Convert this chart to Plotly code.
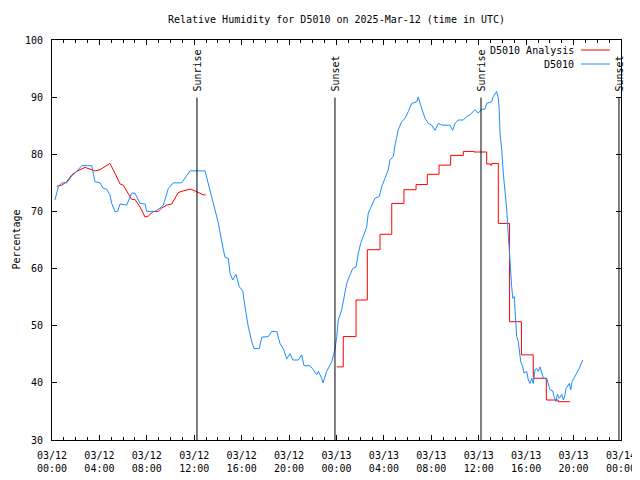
import pandas as pd
import plotly.graph_objects as go

BASE = pd.Timestamp("2025-03-12 00:00")

# Observed D5010 (hours after 03/12 00:00 UTC, RH %)
obs_hours = [0.25, 0.53, 0.82, 1.24, 1.66, 2.08, 2.51, 3.35, 3.63, 4.05, 4.33, 4.61, 4.89, 5.04, 5.31, 5.54,
             5.74, 6.30, 6.72, 7.00, 7.42, 7.85, 7.99, 8.69, 9.11, 9.39, 9.81, 10.23, 10.94, 11.36, 11.64,
             12.91, 13.19, 13.47, 13.75, 14.03, 14.32, 14.59, 14.87, 15.02, 15.24, 15.52, 15.80, 16.09,
             16.28, 16.56, 16.85, 17.04, 17.49, 17.69, 18.25, 18.53, 18.96, 19.23, 19.51, 19.80, 20.08,
             20.31, 20.78, 21.06, 21.26, 21.76, 22.04, 22.33, 22.47, 22.75, 22.86, 23.17, 23.60, 23.87,
             24.02, 24.15, 24.44, 24.63, 24.86, 25.14, 25.37, 25.65, 25.84, 26.04, 26.26, 26.55, 26.68,
             26.97, 27.25, 27.61, 27.81, 28.09, 28.37, 28.51, 28.79, 28.94, 29.21, 29.50, 29.78, 30.06,
             30.34, 30.77, 30.90, 31.19, 31.47, 31.74, 32.03, 32.31, 32.59, 32.87, 33.58, 33.80, 34.00,
             34.27, 34.70, 34.98, 35.26, 35.68, 35.96, 36.25, 36.53, 36.67, 37.09, 37.22, 37.51, 37.65,
             37.73, 37.79, 37.94, 38.07, 38.22, 38.36, 38.50, 38.58, 38.70, 38.78, 38.87, 39.00, 39.06,
             39.14, 39.20, 39.34, 39.42, 39.54, 39.71, 39.82, 40.05, 40.18, 40.32, 40.47, 40.60, 40.75,
             40.89, 41.02, 41.17, 41.31, 41.45, 41.73, 41.87, 42.01, 42.24, 42.35, 42.52, 42.63, 42.80,
             43.00, 43.14, 43.28, 43.36, 43.47, 43.64, 43.76, 43.87, 44.26, 44.54, 44.77]
obs_rh = [72.0, 74.3, 75.0, 75.0, 76.2, 77.0, 78.0, 78.0, 75.2, 75.0, 74.0, 73.9, 72.9, 71.4, 70.0, 70.0,
          71.3, 71.1, 73.2, 73.2, 71.4, 71.3, 70.0, 70.0, 70.6, 71.1, 74.0, 75.0, 75.0, 76.3, 77.1,
          77.1, 74.9, 72.6, 70.3, 68.0, 64.7, 62.0, 61.8, 59.2, 58.0, 59.0, 56.8, 56.1,
          53.3, 49.8, 47.2, 46.0, 46.0, 48.0, 48.1, 49.0, 49.0, 46.9, 46.0, 44.2, 45.1,
          44.0, 44.0, 44.9, 43.0, 43.0, 42.3, 41.4, 42.0, 40.8, 40.0, 42.0, 43.7, 45.8,
          48.1, 51.0, 52.8, 55.1, 57.4, 58.9, 60.0, 60.3, 62.7, 64.4, 65.6, 67.3, 69.7,
          71.1, 72.3, 72.6, 74.3, 75.8, 77.3, 79.0, 79.6, 81.6, 84.3, 85.7, 86.3, 87.5,
          88.9, 89.2, 90.0, 88.0, 86.3, 85.4, 85.1, 84.2, 85.4, 85.1, 85.1, 84.2, 85.4,
          86.0, 86.0, 86.6, 86.9, 87.8, 87.2, 87.9, 87.9, 88.9, 89.2, 90.1, 91.0, 89.8,
          87.8, 83.7, 80.8, 76.7, 73.8, 70.3, 65.6, 62.7, 59.5, 56.8, 54.8, 55.1, 52.8,
          50.4, 48.1, 47.2, 45.8, 43.7, 42.8, 41.7, 42.0, 40.5, 39.9, 40.8, 39.9, 42.3,
          42.5, 42.0, 42.8, 41.7, 40.8, 40.8, 39.9, 38.8, 38.6, 37.6, 36.7, 38.0, 37.3,
          38.0, 37.0, 37.9, 39.0, 39.3, 39.9, 38.8, 40.2, 41.7, 42.8, 44.0]

# Analysis, first day (continuous)
ana1_hours = [0.40, 0.82, 1.24, 1.66, 2.08, 2.78, 3.21, 3.63, 4.05, 4.47, 4.89, 5.31, 5.74, 6.01, 6.44,
              6.72, 7.00, 7.42, 7.85, 8.12, 8.55, 8.97, 9.25, 9.68, 10.10, 10.38, 10.65, 11.08, 11.64,
              12.06, 12.49, 12.76, 12.97]
ana1_rh = [74.4, 74.6, 75.2, 76.4, 77.0, 77.7, 77.4, 77.1, 77.3, 77.8, 78.4, 76.7, 74.8, 74.6, 73.2,
           72.1, 72.1, 70.8, 69.0, 69.2, 70.0, 70.0, 70.6, 71.1, 71.3, 72.3, 73.3, 73.6, 73.9,
           73.6, 73.2, 72.9, 72.9]

# Analysis, second day (hourly steps)
ana2_hours = [24.02, 24.57, 25.65, 26.60, 27.67, 28.66, 29.69, 30.71, 31.66, 32.65, 33.63, 34.70, 35.60,
              36.67, 37.00, 37.10, 37.65, 38.60, 39.60, 40.60, 41.70, 42.70, 43.70]
ana2_rh = [42.8, 48.1, 54.5, 63.3, 66.0, 71.4, 73.8, 74.7, 76.5, 78.1, 79.8, 80.5, 80.4,
           78.3, 78.1, 78.4, 67.9, 50.7, 44.9, 40.8, 37.0, 36.7, 36.7]

# Sun events (hours after 03/12 00:00 UTC)
event_hours = [12.23, 23.87, 36.19, 47.83]
event_names = ["Sunrise", "Sunset", "Sunrise", "Sunset"]

tick_hours = list(range(0, 49, 4))
tick_text = ["03/12<br>00:00", "03/12<br>04:00", "03/12<br>08:00", "03/12<br>12:00", "03/12<br>16:00",
             "03/12<br>20:00", "03/13<br>00:00", "03/13<br>04:00", "03/13<br>08:00", "03/13<br>12:00",
             "03/13<br>16:00", "03/13<br>20:00", "03/14<br>00:00"]

y_ticks = [30, 40, 50, 60, 70, 80, 90, 100]

series_names = ["D5010 Analysis", "D5010"]
series_colors = ["#ff0000", "#1a8cff"]


def to_time(hours):
    return [BASE + pd.Timedelta(hours=h) for h in hours]


FONT = "DejaVu Sans Mono"
# page has an 8px body margin; figure is sized so the plot lands where the reference has it
W, H = 632, 472

fig = go.Figure()
fig.add_trace(go.Scatter(x=to_time(ana1_hours), y=ana1_rh, mode="lines", name=series_names[0],
                         line=dict(color=series_colors[0], width=1), showlegend=False))
fig.add_trace(go.Scatter(x=to_time(ana2_hours), y=ana2_rh, mode="lines", name=series_names[0],
                         line=dict(color=series_colors[0], width=1, shape="hv"), showlegend=False))
fig.add_trace(go.Scatter(x=to_time(obs_hours), y=obs_rh, mode="lines", name=series_names[1],
                         line=dict(color=series_colors[1], width=1), showlegend=False))

for h, name in zip(event_hours, event_names):
    t = BASE + pd.Timedelta(hours=h)
    fig.add_shape(type="line", xref="x", yref="paper", x0=t, x1=t, y0=0, y1=0.856,
                  line=dict(color="black", width=1))
    fig.add_annotation(x=t, xref="x", y=0.866, yref="paper", text=name, textangle=-90,
                       showarrow=False, xanchor="center", yanchor="bottom", xshift=1,
                       font=dict(family=FONT, size=10, color="black"))

# Legend (gnuplot style: text right-aligned, sample on the right)
legend_y = [0.975, 0.94]
for name, color, ly in zip(series_names, series_colors, legend_y):
    fig.add_annotation(x=0.921, xref="paper", y=ly, yref="paper", text=name, showarrow=False,
                       xanchor="right", yanchor="middle", font=dict(family=FONT, size=10, color="black"))
    fig.add_shape(type="line", xref="paper", yref="paper", x0=0.9297, x1=0.9807, y0=ly, y1=ly,
                  line=dict(color=color, width=1))

# Y-axis title
fig.add_annotation(x=-0.064, xref="paper", y=0.5, yref="paper", text="Percentage", textangle=-90,
                   showarrow=False, xanchor="center", yanchor="middle", borderpad=0,
                   font=dict(family=FONT, size=10, color="black"))

fig.update_layout(
    width=W, height=H,
    margin=dict(l=44, r=19, t=32, b=40, autoexpand=False),
    paper_bgcolor="white", plot_bgcolor="white",
    font=dict(family=FONT, size=10, color="black"),
    title=dict(text="Relative Humidity for D5010 on 2025-Mar-12 (time in UTC)", x=0.5, xref="paper",
               y=1 - 11 / H, yref="container", xanchor="center", yanchor="middle",
               font=dict(family=FONT, size=10, color="black")),
    showlegend=False,
)
fig.update_xaxes(
    range=[BASE, BASE + pd.Timedelta(hours=48)], automargin=False,
    tickmode="array", tickvals=to_time(tick_hours), ticktext=tick_text,
    ticks="inside", ticklen=5, tickwidth=1, tickcolor="black",
    minor=dict(ticks="inside", ticklen=3, tickwidth=1, tickcolor="black", dtick=3600000, showgrid=False),
    showline=True, linecolor="black", linewidth=1, mirror="allticks",
    showgrid=False, zeroline=False, tickfont=dict(family=FONT, size=10, color="black"),
    ticklabelstandoff=6,
)
fig.update_yaxes(
    range=[30, 100], automargin=False, tickmode="array", tickvals=y_ticks,
    ticks="inside", ticklen=5, tickwidth=1, tickcolor="black",
    showline=True, linecolor="black", linewidth=1, mirror="allticks",
    showgrid=False, zeroline=False, tickfont=dict(family=FONT, size=10, color="black"),
    ticklabelstandoff=6,
)

fig.write_html("out.html")
